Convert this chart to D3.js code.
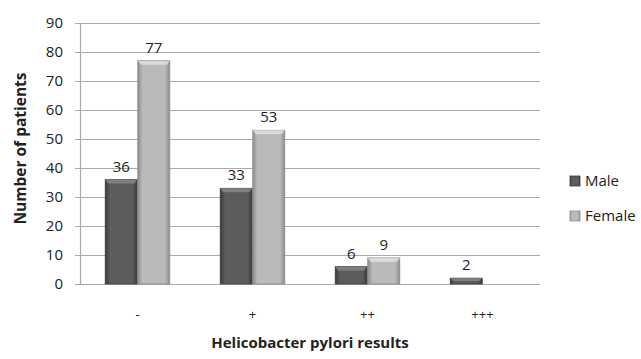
<!DOCTYPE html>
<html>
<head>
<meta charset="utf-8">
<script src="https://cdn.jsdelivr.net/npm/d3@7"></script>
<style>
  body { margin: 0; background: #fff; }
  text { font-family: "Open Sans", "Liberation Sans", sans-serif; fill: #222; }
</style>
</head>
<body>
<div id="grafico"></div>
<script>
const categories = ["-", "+", "++", "+++"];
const series = ["Male", "Female"];
const male   = [36, 33, 6, 2];
const female = [77, 53, 9, null];
const yTicks = [0, 10, 20, 30, 40, 50, 60, 70, 80, 90];

const margin = { top: 23, left: 80, right: 101, bottom: 75 };
const width  = 641 - margin.left - margin.right;
const height = 359 - margin.top - margin.bottom;

const root = d3.select("#grafico")
               .append("svg")
               .attr("width", 641)
               .attr("height", 359);

const defs = root.append("defs");
const colors = {
    Male:   { dark: "#3a3a3a", mid: "#5c5c5c" },
    Female: { dark: "#8c8c8c", mid: "#bababa" }
};
series.forEach(s => {
    const g = defs.append("linearGradient")
                  .attr("id", "grad-" + s)
                  .attr("x1", "0%").attr("x2", "100%")
                  .attr("y1", "0%").attr("y2", "0%");
    g.append("stop").attr("offset", "0%").attr("stop-color", colors[s].dark);
    g.append("stop").attr("offset", "15%").attr("stop-color", colors[s].mid);
    g.append("stop").attr("offset", "85%").attr("stop-color", colors[s].mid);
    g.append("stop").attr("offset", "100%").attr("stop-color", colors[s].dark);
});

const svg = root.append("g")
                .attr("transform", `translate(${margin.left}, ${margin.top})`);

const yScale = d3.scaleLinear().domain([0, 90]).range([height, 0]);
const x0 = d3.scaleBand().domain(categories).range([0, width]).paddingInner(0.43).paddingOuter(0.215);
const x1 = d3.scaleBand().domain(series).range([0, x0.bandwidth()]).padding(0.015);

// gridlines
svg.append("g")
   .selectAll("line")
   .data(yTicks)
   .join("line")
   .attr("x1", -5)
   .attr("x2", width)
   .attr("y1", d => Math.round(yScale(d)) + 0.5)
   .attr("y2", d => Math.round(yScale(d)) + 0.5)
   .attr("stroke", "#aaaaaa")
   .attr("stroke-width", 1.2);

svg.append("line")
   .attr("x1", 0.5).attr("x2", 0.5)
   .attr("y1", 0).attr("y2", height)
   .attr("stroke", "#aaaaaa")
   .attr("stroke-width", 1.2);

// y tick labels
svg.append("g")
   .selectAll("text")
   .data(yTicks)
   .join("text")
   .attr("x", -17)
   .attr("y", d => yScale(d))
   .attr("dy", "0.36em")
   .attr("text-anchor", "end")
   .attr("font-size", "15px")
   .attr("fill", "#333")
   .text(d => d);

// bars
const rows = categories.map((c, i) => ({ cat: c, values: [
    { key: "Male", value: male[i] },
    { key: "Female", value: female[i] }
]}));

const groups = svg.append("g")
                  .selectAll("g")
                  .data(rows)
                  .join("g")
                  .attr("transform", d => `translate(${x0(d.cat)}, 0)`);

const bars = groups.selectAll("g")
                   .data(d => d.values.filter(v => v.value != null))
                   .join("g");

bars.append("rect")
    .attr("x", d => x1(d.key))
    .attr("y", d => yScale(d.value))
    .attr("width", x1.bandwidth())
    .attr("height", d => height - yScale(d.value))
    .attr("fill", d => `url(#grad-${d.key})`)
    .attr("stroke", d => colors[d.key].dark)
    .attr("stroke-width", 0.8);

// bevel top
bars.append("path")
    .attr("d", d => {
        const x = x1(d.key), w = x1.bandwidth(), y = yScale(d.value);
        const b = Math.min(4, (height - y) / 2);
        return `M${x},${y}L${x + w},${y}L${x + w - 3},${y + b}L${x + 3},${y + b}Z`;
    })
    .attr("fill", d => d.key === "Male" ? "#8a8a8a" : "#e2e2e2")
    .attr("opacity", 0.8);

// value labels
bars.append("text")
    .attr("x", d => x1(d.key) + x1.bandwidth() / 2)
    .attr("y", d => yScale(d.value) - 8)
    .attr("text-anchor", "middle")
    .attr("font-size", "15px")
    .text(d => d.value);

// category labels
svg.append("g")
   .selectAll("text")
   .data(categories)
   .join("text")
   .attr("x", d => x0(d) + x0.bandwidth() / 2)
   .attr("y", height + 35)
   .attr("text-anchor", "middle")
   .attr("font-size", "13px")
   .text(d => d);

// axis titles
svg.append("text")
   .attr("x", width / 2)
   .attr("y", height + 64)
   .attr("text-anchor", "middle")
   .attr("font-size", "15px")
   .attr("font-weight", "bold")
   .text("Helicobacter pylori results");

svg.append("text")
   .attr("transform", "rotate(-90)")
   .attr("x", -(height / 2) + 5)
   .attr("y", -54)
   .attr("text-anchor", "middle")
   .attr("font-size", "15.5px")
   .attr("font-weight", "bold")
   .text("Number of patients");

// legend
const legend = svg.append("g")
                  .attr("transform", `translate(${width + 30}, ${158})`)
                  .selectAll("g")
                  .data(series)
                  .join("g")
                  .attr("transform", (d, i) => `translate(0, ${i * 35})`);

legend.append("rect")
      .attr("x", 0).attr("y", -5)
      .attr("width", 10).attr("height", 10)
      .attr("fill", d => `url(#grad-${d})`)
      .attr("stroke", d => colors[d].dark)
      .attr("stroke-width", 0.8);

legend.append("text")
      .attr("x", 15)
      .attr("y", 0)
      .attr("dy", "0.36em")
      .attr("font-size", "15px")
      .text(d => d);
</script>
</body>
</html>
